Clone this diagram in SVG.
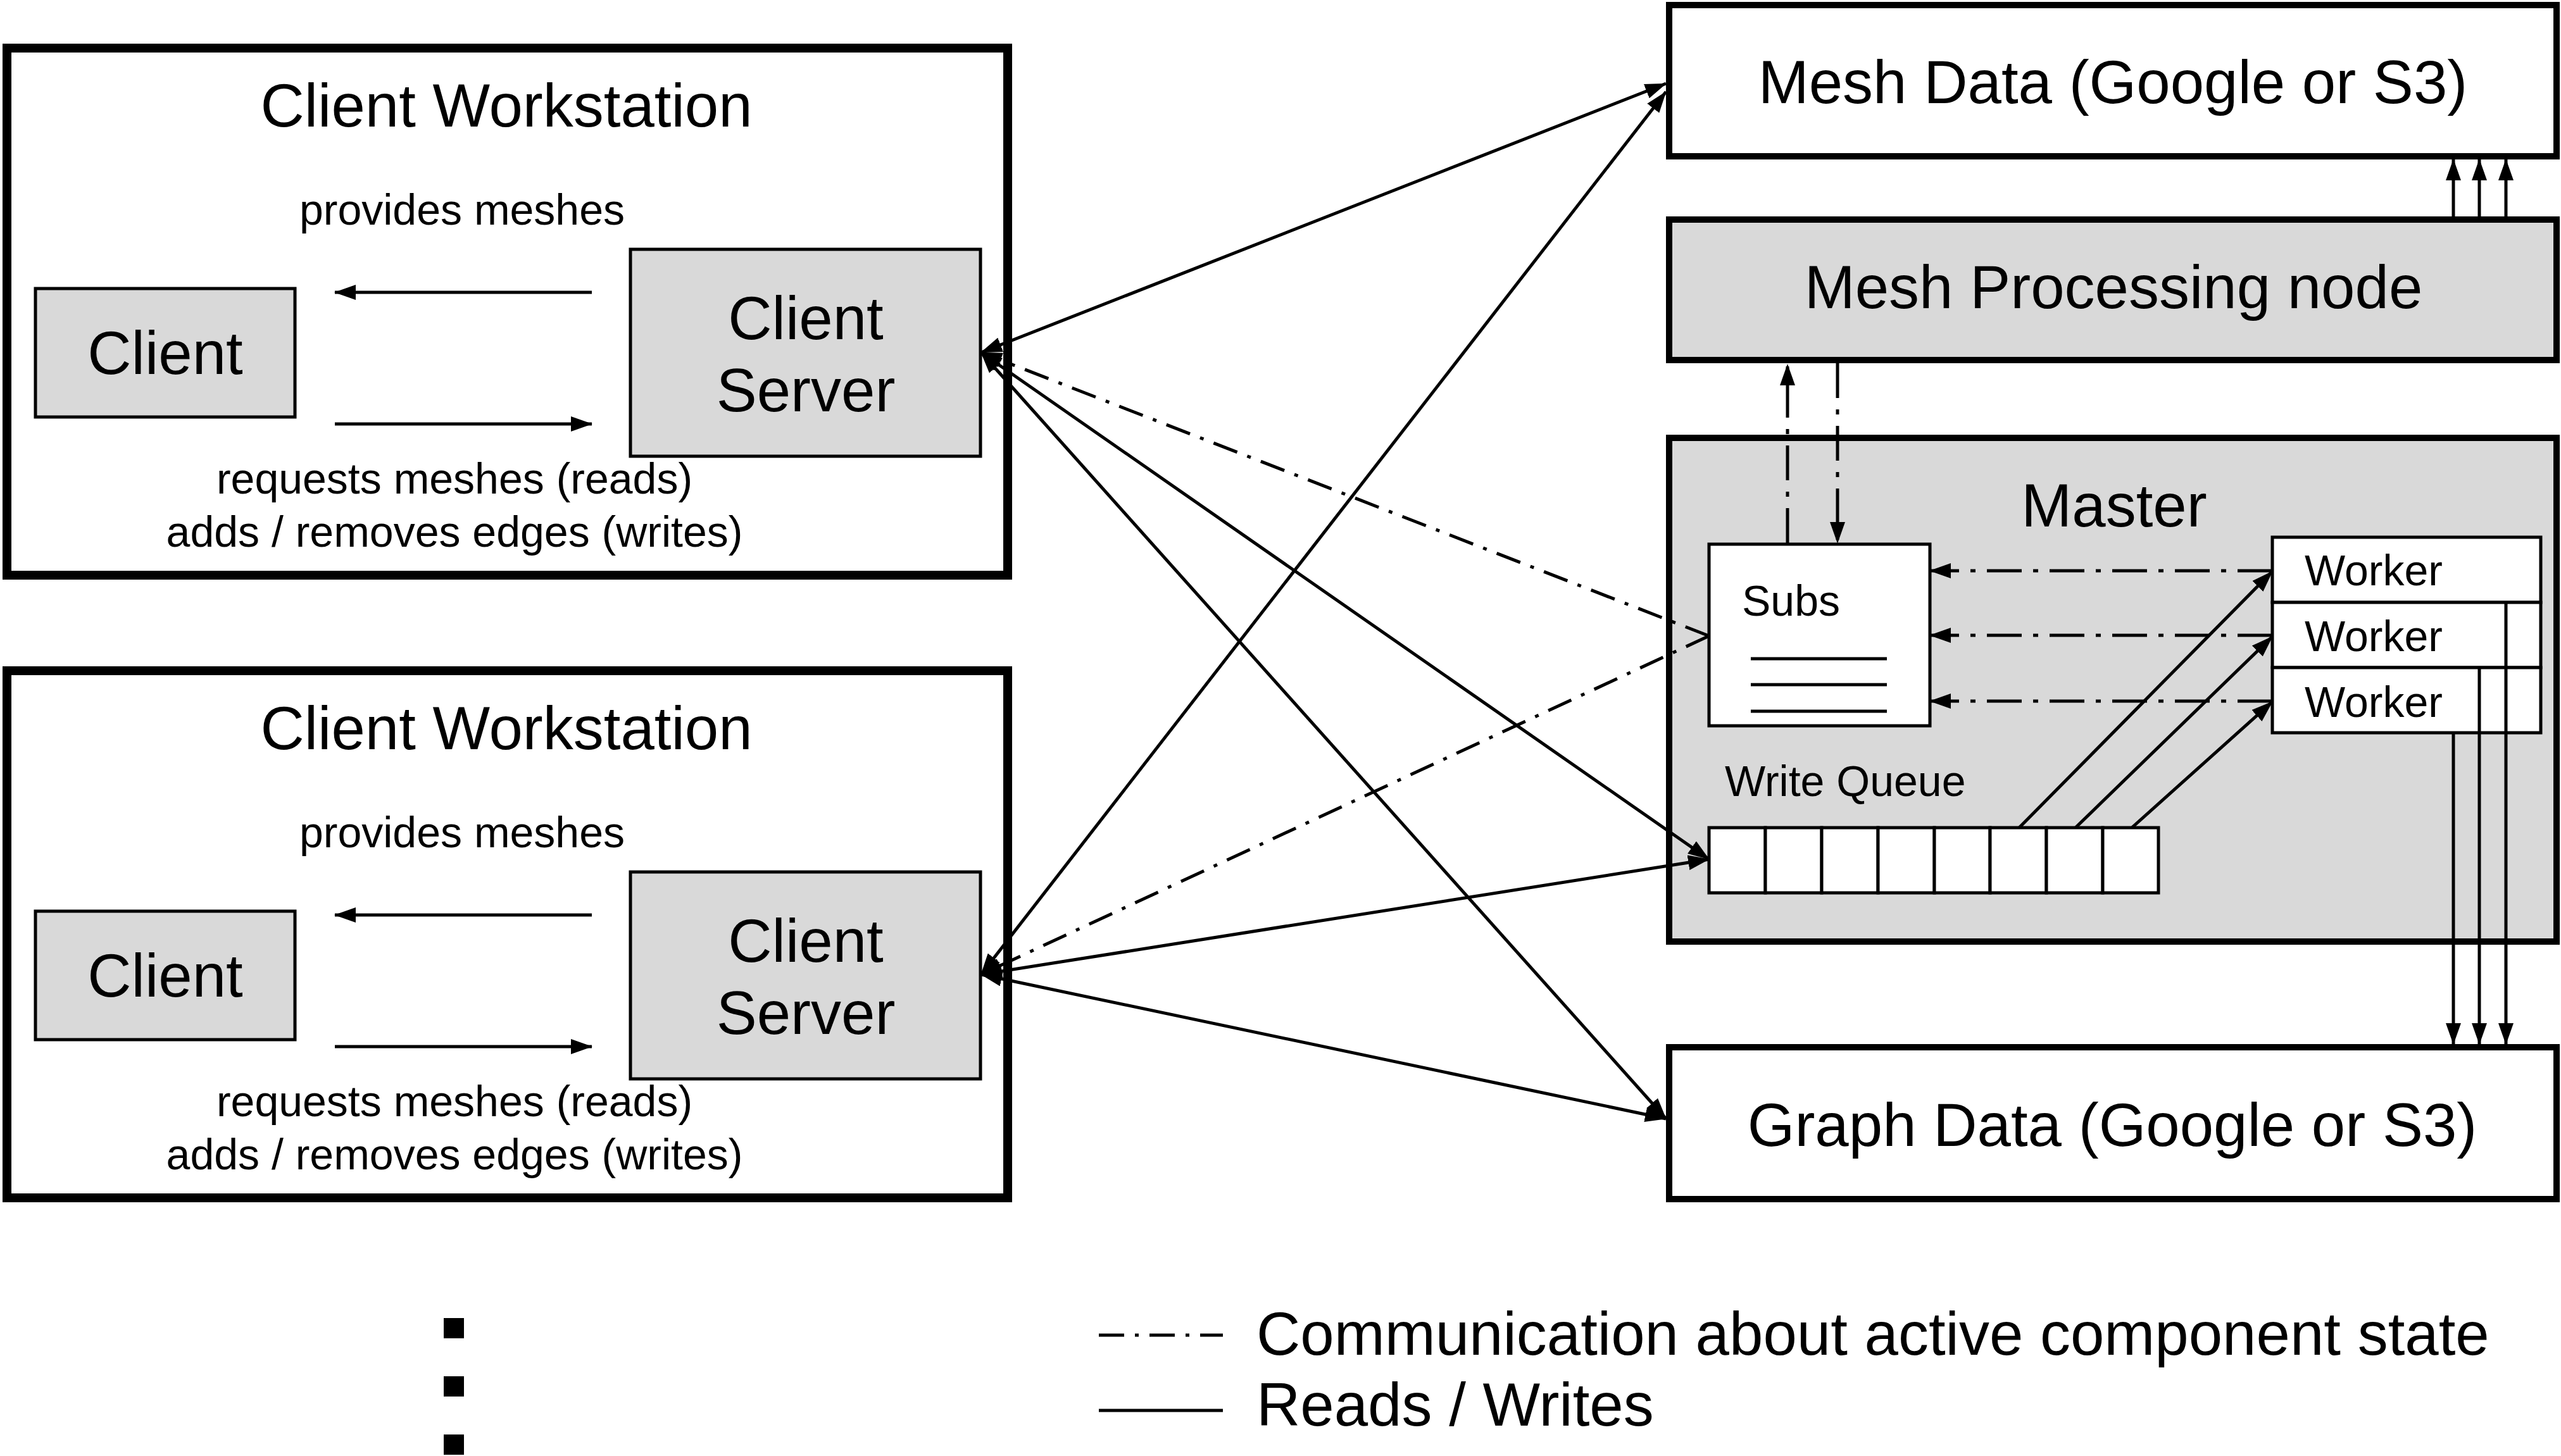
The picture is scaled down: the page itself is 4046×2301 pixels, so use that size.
<svg xmlns="http://www.w3.org/2000/svg" width="4046" height="2301" viewBox="0 0 4046 2301">
<style>
text{font-family:"Liberation Sans",Arial,sans-serif;fill:#000}
.big{font-size:96px}
.sm{font-size:68px}
.mid{text-anchor:middle}
.ws{fill:#fff;stroke:#000;stroke-width:14}
.bx{stroke:#000;stroke-width:10}
.th{stroke:#000;stroke-width:5}
.g{fill:#d9d9d9}
.w{fill:#fff}
.ln{stroke:#000;stroke-width:5;fill:none}
.dd{stroke:#000;stroke-width:5;fill:none;stroke-dasharray:40 17 6 17}
.dl{stroke:#000;stroke-width:5;fill:none;stroke-dasharray:55 18 8 18}
</style>
<defs>
<marker id="ah" markerUnits="userSpaceOnUse" markerWidth="34" markerHeight="24" viewBox="0 0 34 24" refX="33" refY="12" orient="auto-start-reverse"><path d="M0,0 L34,12 L0,24 z" fill="#000"/></marker>
</defs>
<rect width="4046" height="2301" fill="#fff"/>

<g id="workstation1">
<rect class="ws" x="11" y="76" width="1581" height="833"/>
<text class="big mid" x="800" y="200">Client Workstation</text>
<text class="sm mid" x="730" y="355">provides meshes</text>
<text class="sm mid" x="718" y="780">requests meshes (reads)</text>
<text class="sm mid" x="718" y="864">adds / removes edges (writes)</text>
</g>
<g id="client1">
<rect class="th g" x="56" y="456" width="410" height="203"/>
<text class="big mid" x="261" y="591">Client</text>
</g>
<g id="clientserver1">
<rect class="th g" x="996" y="394" width="553" height="327"/>
<text class="big mid" x="1273" y="536">Client</text>
<text class="big mid" x="1273" y="650">Server</text>
</g>

<g id="workstation2">
<rect class="ws" x="11" y="1060" width="1581" height="833"/>
<text class="big mid" x="800" y="1184">Client Workstation</text>
<text class="sm mid" x="730" y="1339">provides meshes</text>
<text class="sm mid" x="718" y="1764">requests meshes (reads)</text>
<text class="sm mid" x="718" y="1848">adds / removes edges (writes)</text>
</g>
<g id="client2">
<rect class="th g" x="56" y="1440" width="410" height="203"/>
<text class="big mid" x="261" y="1575">Client</text>
</g>
<g id="clientserver2">
<rect class="th g" x="996" y="1378" width="553" height="327"/>
<text class="big mid" x="1273" y="1520">Client</text>
<text class="big mid" x="1273" y="1634">Server</text>
</g>

<g id="meshdata">
<rect class="bx w" x="2637" y="8" width="1402" height="239"/>
<text class="big mid" x="3338" y="163">Mesh Data (Google or S3)</text>
</g>
<g id="meshprocessing">
<rect class="bx g" x="2637" y="347" width="1402" height="222"/>
<text class="big mid" x="3339" y="487">Mesh Processing node</text>
</g>
<g id="master">
<rect class="bx g" x="2637" y="692" width="1402" height="796"/>
<text class="big mid" x="3340" y="832">Master</text>
</g>
<g id="subs">
<rect class="th w" x="2700" y="860" width="349" height="287"/>
<text class="sm" x="2752" y="973">Subs</text>
<line class="th" x1="2766" y1="1041" x2="2981" y2="1041"/>
<line class="th" x1="2766" y1="1082" x2="2981" y2="1082"/>
<line class="th" x1="2766" y1="1124" x2="2981" y2="1124"/>
</g>
<g id="worker1">
<rect class="th w" x="3590" y="849" width="424" height="103"/>
<text class="sm" x="3641" y="925">Worker</text>
</g>
<g id="worker2">
<rect class="th w" x="3590" y="952" width="424" height="103"/>
<text class="sm" x="3641" y="1029">Worker</text>
</g>
<g id="worker3">
<rect class="th w" x="3590" y="1055" width="424" height="103"/>
<text class="sm" x="3641" y="1133">Worker</text>
</g>
<g id="writequeue">
<text class="sm" x="2725" y="1258">Write Queue</text>
<rect class="th w" x="2700" y="1308" width="89" height="103"/>
<rect class="th w" x="2789" y="1308" width="89" height="103"/>
<rect class="th w" x="2878" y="1308" width="89" height="103"/>
<rect class="th w" x="2967" y="1308" width="89" height="103"/>
<rect class="th w" x="3056" y="1308" width="88" height="103"/>
<rect class="th w" x="3144" y="1308" width="89" height="103"/>
<rect class="th w" x="3233" y="1308" width="89" height="103"/>
<rect class="th w" x="3322" y="1308" width="88" height="103"/>
</g>
<g id="graphdata">
<rect class="bx w" x="2637" y="1655" width="1402" height="240"/>
<text class="big mid" x="3337" y="1811">Graph Data (Google or S3)</text>
</g>

<g id="connectors">
<line class="ln" x1="935" y1="462" x2="529" y2="462" marker-end="url(#ah)"/>
<line class="ln" x1="529" y1="670" x2="935" y2="670" marker-end="url(#ah)"/>
<line class="ln" x1="935" y1="1446" x2="529" y2="1446" marker-end="url(#ah)"/>
<line class="ln" x1="529" y1="1654" x2="935" y2="1654" marker-end="url(#ah)"/>

<line class="ln" x1="1550" y1="557" x2="2632" y2="132" marker-start="url(#ah)" marker-end="url(#ah)"/>
<line class="ln" x1="1550" y1="1540" x2="2632" y2="145" marker-start="url(#ah)" marker-end="url(#ah)"/>
<line class="dd" x1="2700" y1="1005" x2="1550" y2="557" marker-end="url(#ah)"/>
<line class="dd" x1="2700" y1="1005" x2="1550" y2="1540" marker-end="url(#ah)"/>
<line class="ln" x1="1550" y1="557" x2="2700" y2="1358" marker-start="url(#ah)" marker-end="url(#ah)"/>
<line class="ln" x1="1550" y1="1540" x2="2700" y2="1358" marker-start="url(#ah)" marker-end="url(#ah)"/>
<line class="ln" x1="1550" y1="557" x2="2632" y2="1768" marker-start="url(#ah)" marker-end="url(#ah)"/>
<line class="ln" x1="1550" y1="1540" x2="2632" y2="1768" marker-start="url(#ah)" marker-end="url(#ah)"/>

<line class="ln" x1="3876" y1="342" x2="3876" y2="252" marker-end="url(#ah)"/>
<line class="ln" x1="3917" y1="342" x2="3917" y2="252" marker-end="url(#ah)"/>
<line class="ln" x1="3959" y1="342" x2="3959" y2="252" marker-end="url(#ah)"/>

<line class="dl" x1="2824" y1="858" x2="2824" y2="576" marker-end="url(#ah)"/>
<line class="dl" x1="2903" y1="574" x2="2903" y2="858" marker-end="url(#ah)"/>

<line class="dl" x1="3590" y1="902" x2="3049" y2="902" marker-end="url(#ah)"/>
<line class="dl" x1="3590" y1="1004" x2="3049" y2="1004" marker-end="url(#ah)"/>
<line class="dl" x1="3590" y1="1108" x2="3049" y2="1108" marker-end="url(#ah)"/>

<line class="ln" x1="3190" y1="1308" x2="3590" y2="903" marker-end="url(#ah)"/>
<line class="ln" x1="3279" y1="1308" x2="3590" y2="1006" marker-end="url(#ah)"/>
<line class="ln" x1="3368" y1="1308" x2="3590" y2="1109" marker-end="url(#ah)"/>

<line class="ln" x1="3959" y1="952" x2="3959" y2="1650" marker-end="url(#ah)"/>
<line class="ln" x1="3917" y1="1055" x2="3917" y2="1650" marker-end="url(#ah)"/>
<line class="ln" x1="3876" y1="1158" x2="3876" y2="1650" marker-end="url(#ah)"/>
</g>

<g id="legend">
<rect x="701" y="2083" width="32" height="32" fill="#000"/>
<rect x="701" y="2175" width="32" height="32" fill="#000"/>
<rect x="701" y="2267" width="32" height="32" fill="#000"/>
<line class="dd" x1="1736" y1="2110" x2="1932" y2="2110"/>
<text class="big" x="1985" y="2141">Communication about active component state</text>
<line class="ln" x1="1736" y1="2229" x2="1932" y2="2229"/>
<text class="big" x="1985" y="2253">Reads / Writes</text>
</g>
</svg>
